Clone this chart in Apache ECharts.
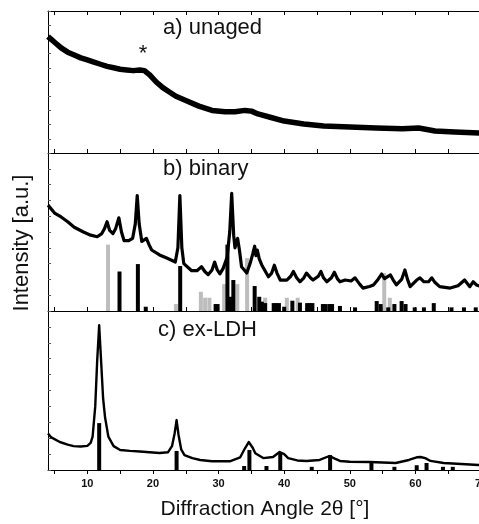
<!DOCTYPE html>
<html>
<head>
<meta charset="utf-8">
<script src="https://cdn.jsdelivr.net/npm/echarts@6/dist/echarts.min.js"></script>
<style>
html,body{margin:0;padding:0;background:#fff;}
#chart{width:479px;height:524px;}
</style>
</head>
<body>
<div id="chart"></div>
<script>
// ---- Data ----
const xTickValues = [5,10,15,20,25,30,35,40,45,50,55,60,65,70];
const xLabelValues = [10,20,30,40,50,60,70];

// a) unaged
const aAngle = [4,4.5,5,6,7,8,9,10,11,12,13,14,15,16,17,18,18.7,19.5,20.5,21.5,22.5,23.5,25,27,29,31,32.5,34,35,36,38,40,43,46,50,54,58,60.5,63,66,70];
const aInt   = [82,80,78,74,71,69,67,65.5,64,62.5,61,60,59,58.5,58,58.5,58,55,50,46,43,40,37,33,30,29,29,30,29.5,27.5,25,22.5,20.4,19,18.3,17.6,17,17.6,15.5,14.8,14];

// b) binary
const bAngle = [4,5,6,7,8,9.4,10.5,11.5,12.2,12.6,13,13.4,13.9,14.3,14.8,15.2,15.6,16.3,16.9,17.3,17.6,17.9,18.3,18.6,19,19.4,19.8,21,22.1,23.4,23.8,24.1,24.4,24.7,25.9,26.7,27.4,27.9,28.4,29,29.4,29.8,30.2,30.7,31.3,31.7,32,32.3,32.5,32.9,33.2,33.5,34.3,34.8,35.2,35.5,35.7,35.9,36.2,36.6,37.6,38.1,38.5,38.9,39.4,40.4,41,41.4,41.9,42.4,43,43.4,44,44.4,45.2,45.6,46,46.5,47.2,47.65,48.1,48.5,49.3,50.2,50.8,51.5,52,53,53.6,54.3,54.85,55.3,55.6,56.2,56.7,57.1,57.9,58.4,58.8,59.2,60.2,60.7,61.3,62,62.5,63,63.7,65.3,66.5,67.5,68.3,68.8,69.3,70];
const bInt   = [67,62,59.5,56.5,53,50,48,47,49,52,56.5,51,49,52,59,50,44.5,44.5,46,55,73,55,44,45,46,42,38.6,35.5,33.5,31,40,73,40,30,25.5,25.5,28,25,23,26,31,26,23.5,27,34,50,74.5,48,40,46,38,28,24,30,36,41,35,38.6,33,29,21.7,24,29,24,19.6,19.6,22,25,21,18.5,21,24,21,19.6,22,25,21,18.5,21,24.5,20.5,18.5,19.6,19,21,17,14.5,15.5,16.5,20,23.4,20.5,19.6,22.8,19,16.5,20,26,20,15.4,19.6,21,18.5,18.5,21,18,15.4,14.5,16,19.6,15.4,18.5,16.5,15.4];
const bRefGrayAngle = [13.15,23.5,27.3,27.95,28.6,30.85,32.85,34.35,37.1,40.4,42.05,55.25,56.1];
const bRefGrayInt   = [42,4.4,12.2,8.4,8.4,17,17,33.5,8.4,8.4,8.4,24,8.4];
const bRefBlackAngle = [14.9,17.7,18.9,24.15,29.55,29.85,31.35,31.85,32.25,35.5,36.2,36.6,37.1,38.4,38.8,39.2,40,41.25,42.4,43.5,43.9,44.3,45.9,46.3,46.9,47.3,48.5,50.8,54.1,54.7,55.86,56.8,57.9,58.5,59.9,61.3,62.8,65.5,67.4,69.2];
const bRefBlackInt   = [25,29.7,2.7,28.5,4.4,4.4,42,9,19.6,15.8,9,5.9,5,5,5,5,2.7,6.5,5.3,5,5,5,4.4,4.4,4.4,4.4,3.2,2.3,6.3,4.4,2.3,4.4,6.3,4.4,2.3,2.3,5,2.3,2.3,2.3];

// c) ex-LDH
const cAngle = [4,4.5,5.8,7,7.9,9,10,10.5,10.8,11.2,11.5,11.8,12.1,12.4,12.7,13.2,14,15,16.5,18,21,22.3,22.9,23.3,23.6,23.9,24.3,24.8,26,27.2,29,31.7,33.3,34,34.6,35.2,35.6,36.8,38.3,39.3,40,40.6,42,43.4,45.4,46.9,47.8,48.5,50,53,57,59,60.2,60.8,61.5,62.3,64.3,67,69.6,70];
const cInt   = [23,20.5,17.6,16,15,14.8,15.2,17,21,40,69,91,68,45,33,21,15,12.6,12,11.6,10.7,11.2,15,23,31.4,22,13,9.4,7.5,6.3,5.5,5.5,8,13.5,17.6,14,10.5,7.5,8.2,11.3,10,7.5,6,5.7,6.3,8.8,7,5.7,5.2,5,4.4,6.3,8,8.2,7.5,5.7,4.4,3.8,3.1,3.1];
const cRefAngle = [11.8,23.6,33.9,34.7,37.3,39.4,44.2,47,53.3,56.8,60.2,61.7,64.2,65.7];
const cRefInt   = [29.5,12,2.5,12.6,2.5,10.7,2,9.4,4.4,2,3,4.4,2,2];

const panelLabels = ['a) unaged','b) binary','c) ex-LDH'];
const xTitle = 'Diffraction Angle 2θ [°]';
const yTitle = 'Intensity [a.u.]';

// ---- Build ----
const zip = (xs, ys) => xs.map((x, i) => [x, ys[i]]);
const FONT = '"Liberation Sans", Arial, sans-serif';

const grids = [
  {left: 48, right: -2, top: 11, height: 142, outerBoundsMode: 'none', containLabel: false},
  {left: 48, right: -2, top: 153, height: 158, outerBoundsMode: 'none', containLabel: false},
  {left: 48, right: -2, top: 311, height: 159, outerBoundsMode: 'none', containLabel: false}
];

function xAx(gi, opts) {
  return Object.assign({
    type: 'value', gridIndex: gi, min: 4, max: 70,
    axisLine: {show: true, onZero: false, lineStyle: {color: '#000', width: 1}},
    axisTick: {show: true, inside: true, length: 4, customValues: xTickValues, lineStyle: {color: '#000'}},
    axisLabel: {show: false},
    splitLine: {show: false}
  }, opts || {});
}

const xAxes = [
  xAx(0), xAx(1),
  xAx(2, {
    axisTick: {show: true, inside: false, length: 4, customValues: xTickValues, lineStyle: {color: '#000'}},
    axisLabel: {show: true, customValues: xLabelValues, fontSize: 11, fontWeight: 'bold', color: '#111', fontFamily: FONT, margin: 8, hideOverlap: false}
  }),
  xAx(0, {position: 'top'})
];

const yAxes = [0,1,2].map(gi => ({
  type: 'value', gridIndex: gi, min: 0, max: 100, interval: 10,
  axisLine: {show: true, lineStyle: {color: '#000', width: 1}},
  axisTick: {show: true, inside: true, length: 3, lineStyle: {color: '#555'}},
  axisLabel: {show: false},
  splitLine: {show: false}
}));

function lineSeries(gi, data, w) {
  return {
    type: 'line', xAxisIndex: gi, yAxisIndex: gi, data: data,
    showSymbol: false, symbol: 'none', smooth: false, z: 5,
    lineStyle: {color: '#000', width: w, join: 'round'}, silent: true, animation: false
  };
}
function barSeries(gi, data, color) {
  return {
    type: 'bar', xAxisIndex: gi, yAxisIndex: gi, data: data,
    barWidth: 4, barGap: '-100%', z: 2,
    itemStyle: {color: color}, silent: true, animation: false
  };
}

const series = [
  lineSeries(0, zip(aAngle, aInt), 5.5),
  barSeries(1, zip(bRefGrayAngle, bRefGrayInt), '#bdbdbd'),
  barSeries(1, zip(bRefBlackAngle, bRefBlackInt), '#000'),
  lineSeries(1, zip(bAngle, bInt), 3.2),
  barSeries(2, zip(cRefAngle, cRefInt), '#000'),
  lineSeries(2, zip(cAngle, cInt), 2.4)
];

const txt = (x, y, text, size, extra) => ({
  type: 'text', x: x, y: y, z: 100,
  style: Object.assign({text: text, fontSize: size, fontFamily: FONT, fill: '#111', textVerticalAlign: 'middle'}, extra || {})
});

const graphic = [
  txt(163, 28, panelLabels[0], 22),
  txt(163, 169, panelLabels[1], 22),
  txt(158, 330, panelLabels[2], 22),
  txt(143, 54, '*', 22, {textAlign: 'center'}),
  txt(265, 509, xTitle, 21, {textAlign: 'center'}),
  {type: 'text', x: 22, y: 243, rotation: Math.PI / 2, z: 100,
   style: {text: yTitle, fontSize: 22, fontFamily: FONT, fill: '#111', textAlign: 'center', textVerticalAlign: 'middle'}}
];

const chart = echarts.init(document.getElementById('chart'), null, {renderer: 'canvas'});
chart.setOption({
  animation: false,
  backgroundColor: '#fff',
  grid: grids,
  xAxis: xAxes,
  yAxis: yAxes,
  series: series,
  graphic: graphic
});
</script>
</body>
</html>
